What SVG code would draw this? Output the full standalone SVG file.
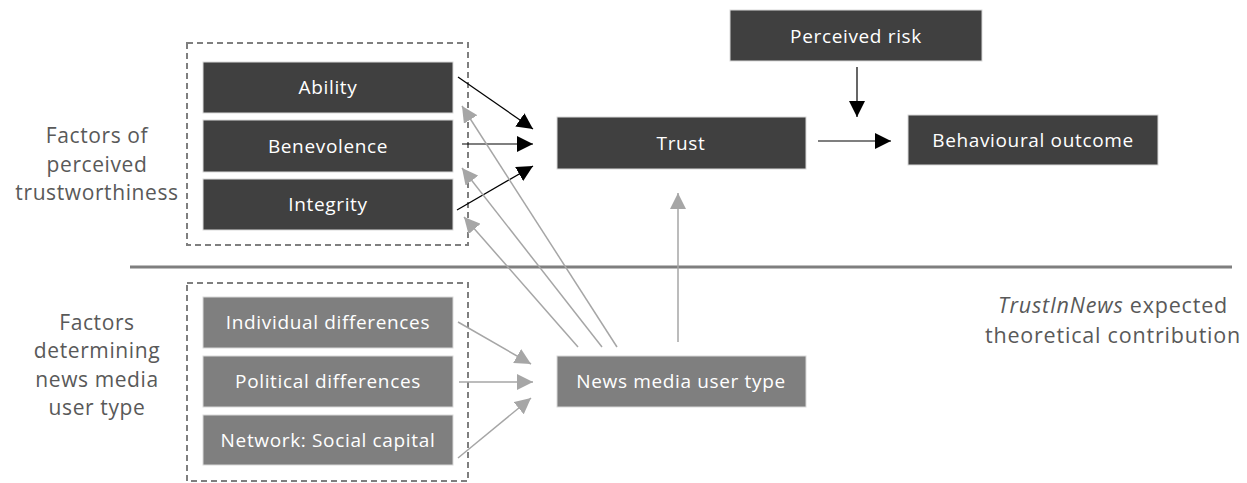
<svg xmlns="http://www.w3.org/2000/svg" width="1247" height="483" viewBox="0 0 1247 483">
<style>
.dark{fill:#404040;stroke:#d9d9d9;stroke-width:1}
.mid{fill:#7f7f7f;stroke:#d9d9d9;stroke-width:1}
.bt{fill:#ffffff;font-family:'Open Sans','Liberation Sans',sans-serif;font-size:19px;letter-spacing:0.65px;text-anchor:middle}
.lt{fill:#595959;font-family:'Open Sans','Liberation Sans',sans-serif;font-size:21px;letter-spacing:0.6px;text-anchor:middle}
.rt{fill:#595959;font-family:'Open Sans','Liberation Sans',sans-serif;font-size:21.5px;letter-spacing:0.8px;text-anchor:middle}
.dash{fill:none;stroke:#7f7f7f;stroke-width:2;stroke-dasharray:6 4}
.ka{stroke:#000;stroke-width:1.2;fill:none;marker-end:url(#mk)}
.ga{stroke:#a6a6a6;stroke-width:1.5;fill:none;marker-end:url(#mg)}
</style>
<defs>
<marker id="mk" markerUnits="userSpaceOnUse" markerWidth="18" markerHeight="16" refX="16" refY="8" orient="auto"><path d="M0,0 L16,8 L0,16 Z" fill="#000"/></marker>
<marker id="mg" markerUnits="userSpaceOnUse" markerWidth="18" markerHeight="16" refX="16" refY="8" orient="auto"><path d="M0,0 L16,8 L0,16 Z" fill="#a6a6a6"/></marker>
</defs>
<rect width="1247" height="483" fill="#fff"/>
<g id="labels">
<text class="lt" x="97" y="143">Factors of</text>
<text class="lt" x="97" y="172">perceived</text>
<text class="lt" x="97" y="200">trustworthiness</text>
<text class="lt" x="97" y="330">Factors</text>
<text class="lt" x="97" y="358">determining</text>
<text class="lt" x="97" y="387">news media</text>
<text class="lt" x="97" y="415">user type</text>
<text class="rt" x="1113" y="313"><tspan font-style="italic">TrustInNews</tspan> expected</text>
<text class="rt" x="1113" y="343">theoretical contribution</text>
</g>
<line id="separator" x1="130" y1="267" x2="1232" y2="267" stroke="#7f7f7f" stroke-width="3"/>
<g id="group-top"><rect class="dash" x="187" y="43" width="281" height="202"/></g>
<g id="group-bottom"><rect class="dash" x="187" y="283" width="281" height="198"/></g>
<g id="ability"><rect class="dark" x="203" y="62" width="250" height="51"/><text class="bt" x="328" y="94">Ability</text></g>
<g id="benevolence"><rect class="dark" x="203" y="120" width="250" height="52"/><text class="bt" x="328" y="153">Benevolence</text></g>
<g id="integrity"><rect class="dark" x="203" y="179" width="250" height="51"/><text class="bt" x="328" y="211">Integrity</text></g>
<g id="individual"><rect class="mid" x="203" y="297" width="250" height="51"/><text class="bt" x="328" y="329">Individual differences</text></g>
<g id="political"><rect class="mid" x="203" y="356" width="250" height="51"/><text class="bt" x="328" y="388">Political differences</text></g>
<g id="network"><rect class="mid" x="203" y="415" width="250" height="50"/><text class="bt" x="328" y="447">Network: Social capital</text></g>
<g id="trust"><rect class="dark" x="557" y="117" width="249" height="52"/><text class="bt" x="681" y="150">Trust</text></g>
<g id="usertype"><rect class="mid" x="557" y="356" width="249" height="51"/><text class="bt" x="681" y="388">News media user type</text></g>
<g id="risk"><rect class="dark" x="730" y="10" width="252" height="51"/><text class="bt" x="856" y="43">Perceived risk</text></g>
<g id="outcome"><rect class="dark" x="908" y="115" width="250" height="50"/><text class="bt" x="1033" y="147">Behavioural outcome</text></g>
<g id="connectors">
<line class="ka" x1="458" y1="77" x2="533" y2="129"/>
<line class="ka" x1="462" y1="144" x2="533" y2="144"/>
<line class="ka" x1="457" y1="210" x2="533" y2="166"/>
<line class="ka" x1="818" y1="141" x2="891" y2="141"/>
<line class="ka" x1="857" y1="67" x2="857" y2="117"/>
<line class="ga" x1="617" y1="347" x2="462" y2="106"/>
<line class="ga" x1="602" y1="347" x2="462" y2="168"/>
<line class="ga" x1="578" y1="347" x2="464" y2="217"/>
<line class="ga" x1="678" y1="342" x2="678" y2="193"/>
<line class="ga" x1="458" y1="322" x2="531" y2="364"/>
<line class="ga" x1="459" y1="382" x2="533" y2="382"/>
<line class="ga" x1="458" y1="458" x2="531" y2="398"/>
</g>
</svg>
